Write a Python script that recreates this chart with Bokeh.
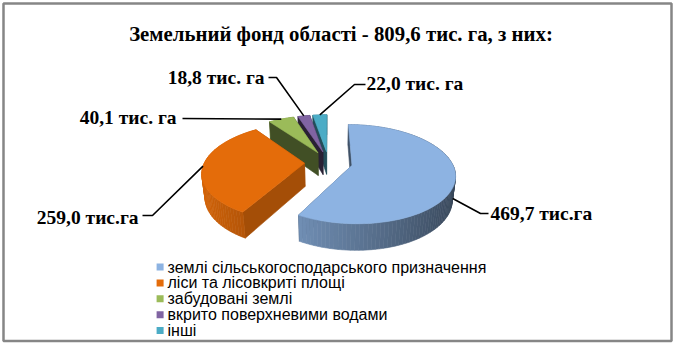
import numpy as np
from bokeh.plotting import figure
from bokeh.models import Range1d, ColumnDataSource
from bokeh.core.properties import value
from bokeh.embed import file_html
from bokeh.resources import INLINE

# ---- data -------------------------------------------------------------
title_text = "Земельний фонд області - 809,6 тис. га, з них:"
categories = [
    "землі сільськогосподарського призначення",
    "ліси та лісовкриті площі",
    "забудовані землі",
    "вкрито поверхневими водами",
    "інші",
]
areas = [469.7, 259.0, 40.1, 18.8, 22.0]          # тис. га
value_labels = ["469,7 тис.га", "259,0 тис.га", "40,1 тис. га",
                "18,8 тис. га", "22,0 тис. га"]

# ---- styles -----------------------------------------------------------
colors = ["#8DB3E2", "#E46C0A", "#9BBB59", "#8064A2", "#4BACC6"]
face_shade = [0.45, 0.72, 0.42, 0.32, 0.45]      # darkness of cut faces
anchor_drop = [0.85, 0.0, 0.0, 0.0, 0.0]         # leader anchor down the rim

# label layout (screen pixels): elbow of leader, text anchor, alignment
elbow_x = [480, 152, 182, 276, 354]
elbow_y = [213, 215, 118, 77, 84]
end_x = [488, 142, 182, 268, 365]
end_y = [213, 215, 118, 77, 84]
label_x = [490, 138, 176, 264, 366]
label_y = [213, 217, 117, 77, 83]
label_align = ["left", "right", "right", "right", "left"]

W, H = 674, 344

# ---- 3-D pie projection ----------------------------------------------
CX, CY = 328.0, 162.0
SCALE = 100.0
PHI = np.radians(28)
DIST = 5.0
EXPLODE = 0.24
DEPTH = 0.27


def project(X, Z, Y):
    yd = Z * np.sin(PHI) - Y * np.cos(PHI)
    d = Z * np.cos(PHI) + Y * np.sin(PHI)
    p = DIST / (DIST - d)
    return CX + SCALE * X * p, CY + SCALE * yd * p


def shade(hex_color, k):
    h = hex_color.lstrip("#")
    rgb = [int(h[i:i + 2], 16) for i in (0, 2, 4)]
    return "#%02x%02x%02x" % tuple(int(max(0, min(255, round(c * k)))) for c in rgb)


fracs = np.array(areas) / sum(areas)
ends = np.cumsum(fracs) * 2 * np.pi
starts = ends - fracs * 2 * np.pi

sides = []   # (depth, xs, ys, color)
tops = []
anchors = []

for i, (s, e) in enumerate(zip(starts, ends)):
    mid = 0.5 * (s + e)
    ox, oz = EXPLODE * np.sin(mid), -EXPLODE * np.cos(mid)

    def rim(t, Y, ox=ox, oz=oz):
        return project(ox + np.sin(t), oz - np.cos(t), Y)

    # top face
    n = max(6, int(np.degrees(e - s) / 2))
    ts = np.linspace(s, e, n + 1)
    ax, ay = project(ox, oz, 0.0)
    rx, ry = rim(ts, 0.0)
    tops.append((oz, [ax] + list(rx), [ay] + list(ry), colors[i]))

    # outer curved side, shaded in thin strips (lit from the left)
    for ta, tb in zip(ts[:-1], ts[1:]):
        tm = 0.5 * (ta + tb)
        x1, y1 = rim(ta, 0.0)
        x2, y2 = rim(tb, 0.0)
        x3, y3 = rim(tb, -DEPTH)
        x4, y4 = rim(ta, -DEPTH)
        k = min(0.95, 0.66 - 0.28 * np.sin(tm))
        sides.append((oz - np.cos(tm), [x1, x2, x3, x4], [y1, y2, y3, y4],
                      shade(colors[i], k)))

    # radial cut faces
    bx, by = project(ox, oz, -DEPTH)
    for t in (s, e):
        x1, y1 = rim(t, 0.0)
        x2, y2 = rim(t, -DEPTH)
        sides.append((oz - 0.5 * np.cos(t), [ax, x1, x2, bx], [ay, y1, y2, by],
                      shade(colors[i], face_shade[i])))

    anchors.append(rim(mid, -DEPTH * anchor_drop[i]))

sides.sort(key=lambda r: r[0])
tops.sort(key=lambda r: r[0])

p = figure(width=W, height=H, output_backend="svg", toolbar_location=None,
           x_range=Range1d(0, W), y_range=Range1d(H, 0),
           x_axis_location=None, y_axis_location=None,
           min_border=0, outline_line_color=None)
p.grid.visible = False
p.background_fill_color = "white"

# chart border
p.quad(left=[3], right=[671], top=[3], bottom=[340.5], fill_alpha=0,
       line_color="#868686", line_width=2.5)

side_src = ColumnDataSource(dict(xs=[r[1] for r in sides], ys=[r[2] for r in sides],
                                 c=[r[3] for r in sides]))
p.patches("xs", "ys", source=side_src, fill_color="c", line_color="c", line_width=0.6)

top_src = ColumnDataSource(dict(xs=[r[1] for r in tops], ys=[r[2] for r in tops],
                                c=[r[3] for r in tops]))
p.patches("xs", "ys", source=top_src, fill_color="c", line_color="c", line_width=0.6)

# leader lines
lx = [[a[0], ex, fx] for a, ex, fx in zip(anchors, elbow_x, end_x)]
ly = [[a[1], ey, fy] for a, ey, fy in zip(anchors, elbow_y, end_y)]
p.multi_line(lx, ly, line_color="black", line_width=1.6)

# value labels
for i in range(len(areas)):
    p.text([label_x[i]], [label_y[i]], text=[value_labels[i]],
           text_font=value("Liberation Serif"), text_font_style="bold",
           text_font_size="19.5px", text_align=label_align[i],
           text_baseline="alphabetic", text_color="black")

# title
p.text([340.5], [33], text=[title_text], text_font=value("Liberation Serif"),
       text_font_style="bold", text_font_size="20.8px", text_align="center",
       text_baseline="alphabetic", text_color="black")

# legend
row_y = [266.5 + 15.9 * i for i in range(len(categories))]
p.rect(x=[159.6] * len(categories), y=row_y, width=7, height=7,
       fill_color=colors, line_color=None)
p.text(x=[167] * len(categories), y=row_y, text=categories,
       text_font=value("Liberation Sans"), text_font_size="16px",
       text_baseline="middle", text_align="left", text_color="black")

open("out.html", "w").write(file_html(p, INLINE))
